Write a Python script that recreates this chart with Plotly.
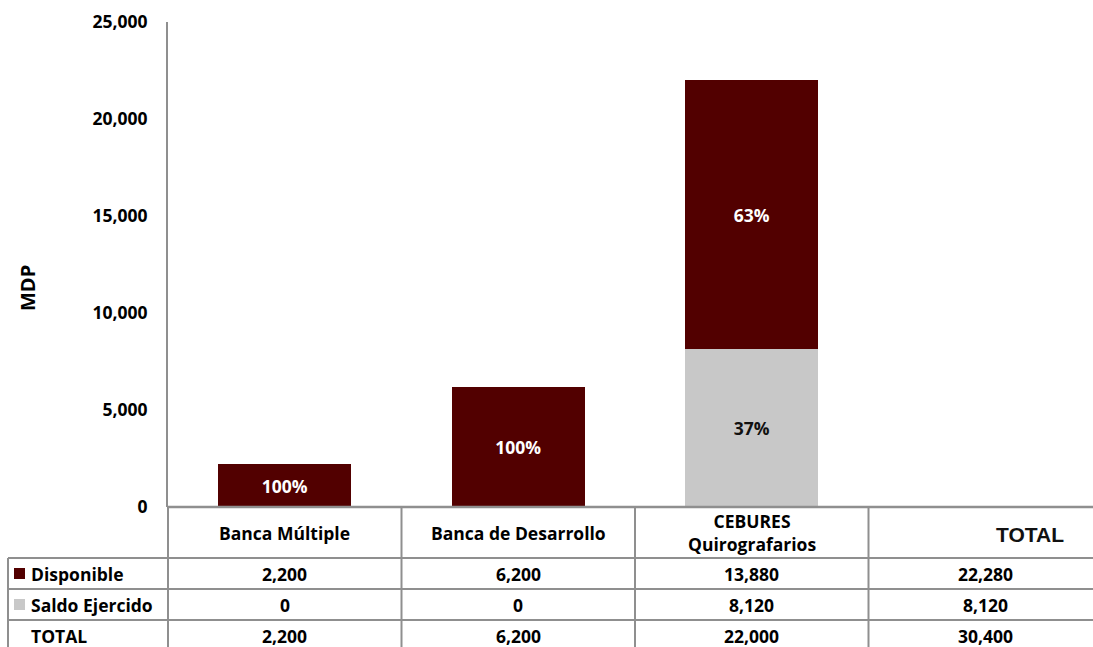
import plotly.graph_objects as go

# ---------------- data ----------------
categories = ["Banca Múltiple", "Banca de Desarrollo", "CEBURES<br>Quirografarios", "TOTAL"]
bar_categories = categories[:3]
disponible = [2200, 6200, 13880]
saldo_ejercido = [0, 0, 8120]
disponible_tbl = [2200, 6200, 13880, 22280]
saldo_tbl = [0, 0, 8120, 8120]
total_tbl = [2200, 6200, 22000, 30400]
row_labels = ["Disponible", "Saldo Ejercido", "TOTAL"]
y_ticks = [0, 5000, 10000, 15000, 20000, 25000]

# ---------------- style ----------------
W, H = 1093, 647
ML, MR, MT, MB = 168, 0, 22, 140
RED = "#520000"
GRAY = "#c8c8c8"
LINE = "#8f8f8f"
FONT = "Open Sans"
FS = 17.5
COLW = 233.5
PW = W - ML - MR
PH = H - MT - MB
xmax = -0.5 + PW / COLW


def px(xp):
    return (xp - ML) / PW


def py(yp):
    return (H - MB - yp) / PH


tot = [d + s for d, s in zip(disponible, saldo_ejercido)]
pct_d = [f"{round(100 * d / t)}%" if d > 0 else "" for d, t in zip(disponible, tot)]
pct_s = [f"{round(100 * s / t)}%" if s > 0 else "" for s, t in zip(saldo_ejercido, tot)]

fig = go.Figure()
fig.add_trace(go.Bar(
    x=bar_categories, y=saldo_ejercido, name="Saldo Ejercido",
    marker=dict(color=GRAY, line=dict(width=0)), width=0.57,
    text=pct_s, textposition="inside", insidetextanchor="middle",
    textfont=dict(color="#111111", size=17.5, family=FONT, weight="bold"),
    textangle=0,
))
fig.add_trace(go.Bar(
    x=bar_categories, y=disponible, name="Disponible",
    marker=dict(color=RED, line=dict(width=0)), width=0.57,
    text=pct_d, textposition="inside", insidetextanchor="middle",
    textfont=dict(color="white", size=17.5, family=FONT, weight="bold"),
    textangle=0,
))

fig.update_layout(
    barmode="stack",
    width=W, height=H,
    margin=dict(l=ML, r=MR, t=MT, b=MB),
    plot_bgcolor="white", paper_bgcolor="white",
    showlegend=False,
    font=dict(family=FONT, color="black"),
    xaxis=dict(
        type="category", categoryorder="array", categoryarray=categories,
        range=[-0.5, xmax], showticklabels=False, showline=False,
        showgrid=False, zeroline=False, fixedrange=True,
    ),
    yaxis=dict(
        range=[0, 25000], tickvals=y_ticks, tickformat=",",
        showgrid=False, zeroline=False, showline=True, linecolor=LINE,
        linewidth=2, ticks="", ticklabelstandoff=15,
        tickfont=dict(size=FS, family=FONT, color="black", weight="bold"),
    ),
    uniformtext=dict(mode=False),
)

shapes = []
# x-axis / table top line
shapes.append(dict(type="line", xref="paper", yref="paper", x0=px(168), x1=1, y0=py(507), y1=py(507),
                   line=dict(color=LINE, width=2.5)))
for yy in [558, 589, 620]:
    shapes.append(dict(type="line", xref="paper", yref="paper", x0=px(8), x1=1, y0=py(yy), y1=py(yy),
                       line=dict(color=LINE, width=2)))
# vertical lines
shapes.append(dict(type="line", xref="paper", yref="paper", x0=px(168), x1=px(168), y0=py(507), y1=py(H + 5),
                   line=dict(color=LINE, width=2)))
for i in range(1, 4):
    xx = ML + i * COLW
    shapes.append(dict(type="line", xref="paper", yref="paper", x0=px(xx), x1=px(xx), y0=py(507), y1=py(H + 5),
                       line=dict(color=LINE, width=2)))
shapes.append(dict(type="line", xref="paper", yref="paper", x0=px(8), x1=px(8), y0=py(558), y1=py(H + 5),
                   line=dict(color=LINE, width=2)))
# legend keys
for yc, col in [(573.5, RED), (604.5, GRAY)]:
    shapes.append(dict(type="rect", xref="paper", yref="paper", x0=px(14), x1=px(25), y0=py(yc + 5.5), y1=py(yc - 5.5),
                       fillcolor=col, line=dict(width=0)))
fig.update_layout(shapes=shapes)

ann = []
tf = dict(size=FS, family=FONT, color="black", weight="bold")
# category labels
for i, c in enumerate(categories[:3]):
    ann.append(dict(x=i, y=py(532.5), xref="x", yref="paper", text=c, showarrow=False,
                    font=tf, xanchor="center", yanchor="middle"))
ann.append(dict(x=3, y=py(534), xref="x", yref="paper", text=categories[3], showarrow=False,
                font=dict(size=21, family="Liberation Sans Narrow, Liberation Sans", color="#111111", weight="bold"),
                xanchor="center", yanchor="middle", xshift=45))
# rows
rows = [disponible_tbl, saldo_tbl, total_tbl]
row_y = [573.5, 604.5, 635.5]
for r, (lab, vals, yc) in enumerate(zip(row_labels, rows, row_y)):
    ann.append(dict(x=px(29), y=py(yc), xref="paper", yref="paper", text=lab, showarrow=False,
                    font=tf, xanchor="left", yanchor="middle"))
    for i, v in enumerate(vals):
        ann.append(dict(x=i, y=py(yc), xref="x", yref="paper", text=f"{v:,}", showarrow=False,
                        font=tf, xanchor="center", yanchor="middle"))
# axis title
ann.append(dict(x=px(27), y=py(288), xref="paper", yref="paper", text="MDP", showarrow=False,
                textangle=-90, font=dict(size=20, family=FONT, color="black", weight="bold"),
                xanchor="center", yanchor="middle"))
fig.update_layout(annotations=ann)

fig.write_html("out.html", config={"displayModeBar": False},
               post_script="document.body.style.margin='0';document.body.style.overflow='hidden';")
